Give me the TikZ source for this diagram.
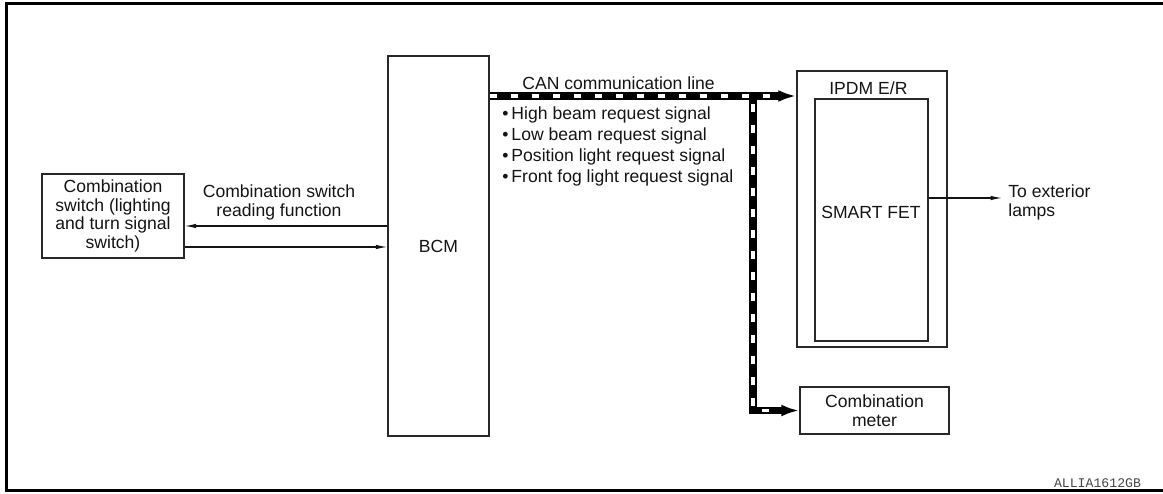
\documentclass[tikz,border=0pt]{standalone}
\usepackage{fontspec}
\setmainfont{Liberation Sans}
\setmonofont{Liberation Mono}
\usetikzlibrary{arrows.meta,positioning}
\definecolor{lampInk}{RGB}{20,20,20}
\definecolor{lampEdge}{RGB}{40,40,40}
\definecolor{lampCode}{RGB}{70,70,70}
\tikzset{
  ltext/.style={font=\fontsize{10}{10.6}\selectfont, text=lampInk,
    align=center, inner sep=0pt},
  lbox/.style={draw=lampEdge, line width=.85pt, fill=white, inner sep=1pt},
  lwire/.style={-{Latex[length=2.3mm,width=.9mm]}, line width=.6pt,
    draw=lampInk}
}
\begin{document}
\begin{tikzpicture}[
  unit/.style={lbox, ltext},
  canbus/.style={line width=4pt, draw=black,
    -{Latex[length=3.6mm,width=2.4mm]}},
  canmark/.style={line width=2.2pt, draw=white,
    dash pattern=on 1.5mm off 2.7mm, shorten >=3.9mm}
]
\path[use as bounding box] (0,0) rectangle (23.26,-9.86);
\draw[line width=1.7pt] (23.4,-.07) -- (.13,-.07) -- (.13,-9.81) -- (23.4,-9.81);

\node[unit, minimum width=2.84cm, minimum height=1.68cm] (sw) at (2.26,-4.32)
  {Combination\\switch (lighting\\and turn signal\\switch)};
\node[unit, minimum width=2.02cm, minimum height=7.6cm] (bcm) at (8.77,-4.92) {BCM};
\node[lbox, minimum width=3.0cm, minimum height=5.52cm] (ipdm) at (17.44,-4.18) {};
\node[ltext, anchor=west] (ipdmlab) at (16.58,-1.76) {IPDM E/R};
\node[lbox, minimum width=2.26cm, minimum height=4.84cm] (fet) at (17.43,-4.40) {};
\node[ltext] (fetlab) at (17.42,-4.24) {SMART FET};
\node[unit, minimum width=2.98cm, minimum height=.94cm] (meter) at (17.49,-8.21)
  {Combination\\meter};

\node[ltext] (swlab) at (5.58,-4.05) {Combination switch\\reading function};
\node[ltext, align=left, anchor=west] (lamps) at (20.16,-4.05) {To exterior\\lamps};
\coordinate (lampend) at (20.04,-3.96);
\draw[lwire] (bcm.west |- 0,-4.52) -- (sw.east |- 0,-4.52);
\draw[lwire] (sw.east |- 0,-4.94) -- (bcm.west |- 0,-4.94);
\draw[lwire] (fet.east |- lampend) -- (lampend);

% CAN line with signal list
\coordinate (canjoin) at (15.06,-1.92);
\node[ltext, anchor=west] (canlab) at (10.44,-1.66) {CAN communication line};
\node[ltext, anchor=west] (sig1) at (10.04,-2.30) {\textbullet\hspace{.6mm}High beam request signal};
\node[ltext, anchor=west] (sig2) at (10.04,-2.72) {\textbullet\hspace{.6mm}Low beam request signal};
\node[ltext, anchor=west] (sig3) at (10.04,-3.14) {\textbullet\hspace{.6mm}Position light request signal};
\node[ltext, anchor=west] (sig4) at (10.04,-3.56) {\textbullet\hspace{.6mm}Front fog light request signal};
\draw[canbus] (canjoin -| bcm.east) -- (canjoin -| ipdm.west);
\draw[canbus] (canjoin) -- (canjoin |- meter.west) -- (meter.west);
\draw[canmark] (canjoin -| bcm.east) -- (canjoin -| ipdm.west);
\draw[canmark, shorten <=1.6mm] (canjoin) -- (canjoin |- meter.west) -- (meter.west);

\node[font=\ttfamily\fontsize{7.5}{8}\selectfont, text=lampCode, inner sep=0pt]
  (code) at (21.95,-9.66) {ALLIA1612GB};
\end{tikzpicture}
\end{document}
